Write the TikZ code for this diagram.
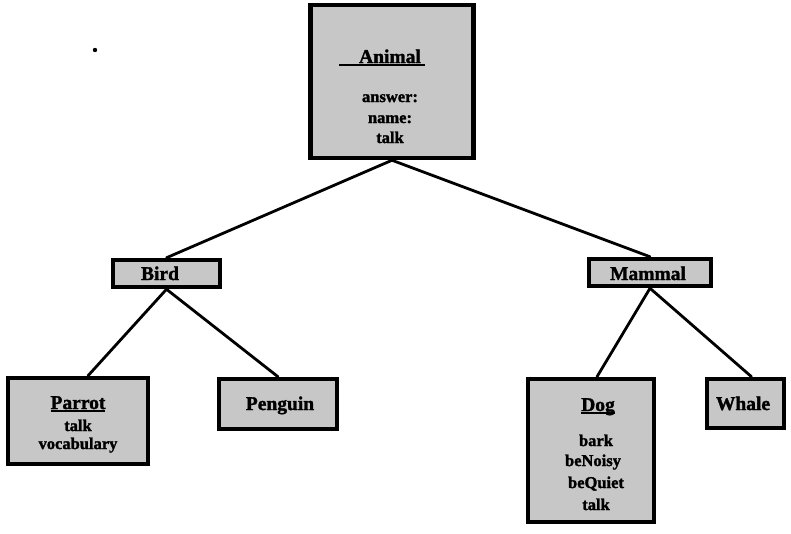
\documentclass[tikz,border=0pt]{standalone}
\usepackage{fontspec}
\setmainfont[BoldFeatures={FakeBold=1.6}]{Liberation Serif}
% heavy underline for class names
\newcommand\clsline[1]{\setbox0\hbox{#1}\rlap{\rule[-3.4pt]{\wd0}{2.6pt}}\box0}
\begin{document}
\begin{tikzpicture}[x=1pt,y=-1pt,
  classbox/.style 2 args={draw=black,line width=4.5pt,fill=black!22,rectangle,
    inner sep=0pt,minimum width=#1pt,minimum height=#2pt},
  link/.style={line width=2.8pt,line cap=round},
  cname/.style={font=\bfseries\fontsize{19.5}{22}\selectfont,anchor=base,inner sep=0pt},
  member/.style={font=\bfseries\fontsize{16.5}{19}\selectfont,anchor=base,inner sep=0pt}]
\useasboundingbox (0,0) rectangle (791,533);

% class boxes
\node[classbox={163}{153}] (animal)  at (392,81.5)  {};
\node[classbox={107}{27}]  (bird)    at (166.5,273.5) {};
\node[classbox={122}{27}]  (mammal)  at (650,272.5) {};
\node[classbox={140}{86}]  (parrot)  at (78,421)    {};
\node[classbox={118}{50}]  (penguin) at (278,404)   {};
\node[classbox={126}{143}] (dog)     at (591,450.5) {};
\node[classbox={77}{49}]   (whale)   at (745.5,403.5) {};

% inheritance links
\draw[link] (animal.south) -- (bird.north);
\draw[link] (animal.south) -- (mammal.north);
\draw[link] (bird.south) -- ([xshift=10pt]parrot.north);
\draw[link] (bird.south) -- (penguin.north);
\draw[link] (mammal.south) -- ([xshift=6pt]dog.north);
\draw[link] (mammal.south) -- ([xshift=6pt]whale.north);

% Animal
\node[cname]  (animal-t) at (382,63)  {\clsline{\hspace{20pt}Animal\hspace{4pt}}};
\node[member] (animal-1) at (390,102) {answer:};
\node[member] (animal-2) at (390,123) {name:};
\node[member] (animal-3) at (390,143) {talk};

% Bird and Mammal
\node[cname] (bird-t)   at (160,280) {Bird};
\node[cname] (mammal-t) at (648,280) {Mammal};

% Parrot
\node[cname]  (parrot-t) at (78,409) {\clsline{Parrot}};
\node[member] (parrot-1) at (78,431) {talk};
\node[member] (parrot-2) at (78,449) {vocabulary};

% Penguin
\node[cname] (penguin-t) at (280,410) {Penguin};

% Dog
\node[cname]  (dog-t) at (598,411) {\clsline{Dog}};
\node[member] (dog-1) at (596,446) {bark};
\node[member] (dog-2) at (593,466) {beNoisy};
\node[member] (dog-3) at (596,488) {beQuiet};
\node[member] (dog-4) at (596,510) {talk};

% Whale
\node[cname] (whale-t) at (743,410) {Whale};

% stray ink dot
\fill (95,50) circle (2.2pt);
\end{tikzpicture}
\end{document}
